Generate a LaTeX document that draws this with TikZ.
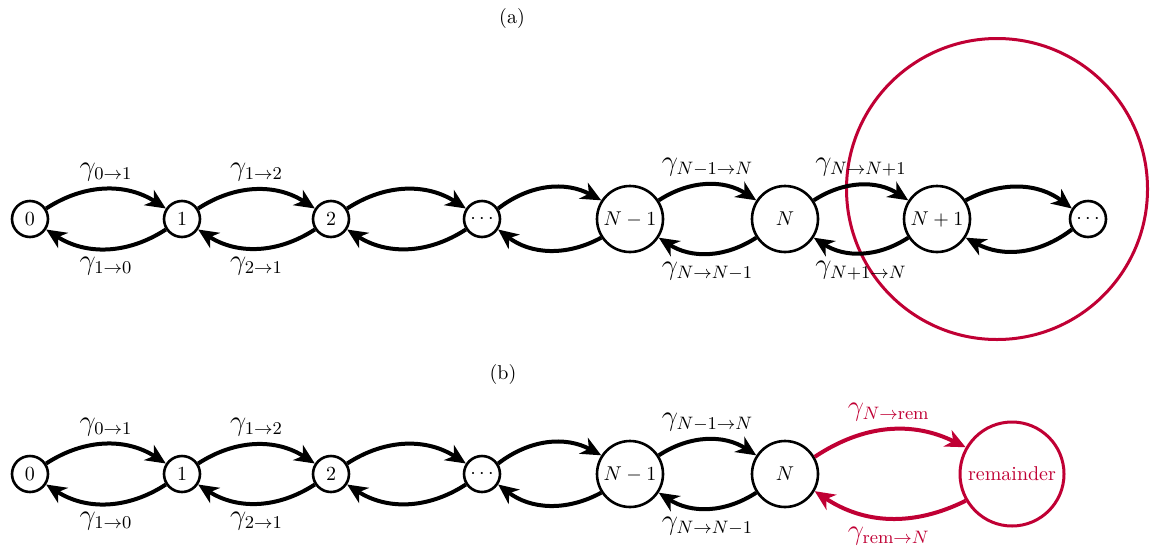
\documentclass[tikz,border=0pt]{standalone}
\usetikzlibrary{arrows.meta}
\definecolor{crim}{RGB}{192,0,52}
\begin{document}
\begin{tikzpicture}[x=0.5pt,y=0.5pt,
  st/.style={circle,draw,line width=1.3pt,inner sep=0pt,minimum size=18pt,font=\normalsize},
  big/.style={st,minimum size=33pt},
  edge/.style={line width=2pt,-{Stealth[length=10pt,width=9pt,inset=3pt]},bend left=33},
  lab/.style={font=\fontsize{13.5}{16}\selectfont},
  redc/.style={draw=crim,line width=1.5pt,circle,inner sep=0pt},
]
\useasboundingbox (0,0) rectangle (1155,-552);

% (a)
\node[redc,minimum size=150.5pt] (rc) at (997,-189) {};
\node[font=\normalsize] (la) at (512,-18) {(a)};
\node[st] (a0) at (30,-219) {0};
\node[st] (a1) at (182,-219) {1};
\node[st] (a2) at (331,-219) {2};
\node[st] (ad) at (482,-219) {$\cdots$};
\node[big] (am) at (630,-219) {$N-1$};
\node[big] (aN) at (785,-219) {$N$};
\node[big] (ap) at (937,-219) {$N+1$};
\node[st] (ae) at (1088,-219) {$\cdots$};

\draw[edge] (a0) to node[lab,above] {$\gamma_{0\to1}$} (a1);
\draw[edge] (a1) to node[lab,below] {$\gamma_{1\to0}$} (a0);
\draw[edge] (a1) to node[lab,above] {$\gamma_{1\to2}$} (a2);
\draw[edge] (a2) to node[lab,below] {$\gamma_{2\to1}$} (a1);
\draw[edge] (a2) to (ad);
\draw[edge] (ad) to (a2);
\draw[edge] (ad) to (am);
\draw[edge] (am) to (ad);
\draw[edge] (am) to node[lab,above] {$\gamma_{N-1\to N}$} (aN);
\draw[edge] (aN) to node[lab,below] {$\gamma_{N\to N-1}$} (am);
\draw[edge] (aN) to node[lab,above] {$\gamma_{N\to N+1}$} (ap);
\draw[edge] (ap) to node[lab,below] {$\gamma_{N+1\to N}$} (aN);
\draw[edge] (ap) to (ae);
\draw[edge] (ae) to (ap);

% (b)
\node[font=\normalsize] (lb) at (503,-374) {(b)};
\node[st] (b0) at (30,-474) {0};
\node[st] (b1) at (182,-474) {1};
\node[st] (b2) at (331,-474) {2};
\node[st] (bd) at (482,-474) {$\cdots$};
\node[big] (bm) at (630,-474) {$N-1$};
\node[big] (bN) at (785,-474) {$N$};
\node[redc,minimum size=52pt,text=crim] (br) at (1012,-474) {remainder};

\draw[edge] (b0) to node[lab,above] {$\gamma_{0\to1}$} (b1);
\draw[edge] (b1) to node[lab,below] {$\gamma_{1\to0}$} (b0);
\draw[edge] (b1) to node[lab,above] {$\gamma_{1\to2}$} (b2);
\draw[edge] (b2) to node[lab,below] {$\gamma_{2\to1}$} (b1);
\draw[edge] (b2) to (bd);
\draw[edge] (bd) to (b2);
\draw[edge] (bd) to (bm);
\draw[edge] (bm) to (bd);
\draw[edge] (bm) to node[lab,above] {$\gamma_{N-1\to N}$} (bN);
\draw[edge] (bN) to node[lab,below] {$\gamma_{N\to N-1}$} (bm);
\draw[edge,color=crim,bend left=30] (bN) to node[lab,above,text=crim] {$\gamma_{N\to\mathrm{rem}}$} (br);
\draw[edge,color=crim,bend left=30] (br) to node[lab,below,text=crim] {$\gamma_{\mathrm{rem}\to N}$} (bN);
\end{tikzpicture}
\end{document}
